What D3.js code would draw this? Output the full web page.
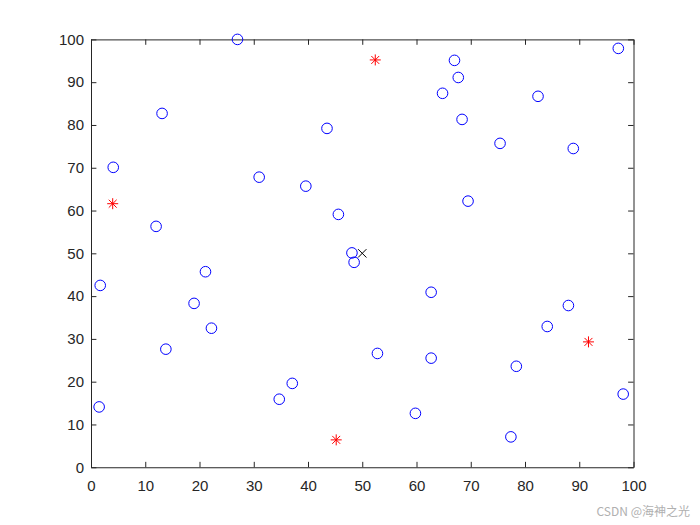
<!DOCTYPE html>
<html><head><meta charset="utf-8">
<script src="https://cdn.jsdelivr.net/npm/d3@7"></script>
<style>body{margin:0;background:#fff;} svg{display:block;}</style>
</head><body>
<script>
const circleX = [27.0,13.1,4.1,12.0,31.0,39.6,43.5,45.6,67.0,67.7,64.8,82.4,97.2,68.4,75.4,88.9,69.5,48.1,48.5,1.7,21.1,19.0,22.2,13.8,1.5,37.1,34.7,62.7,52.8,62.7,59.8,77.4,78.4,84.1,88.0,98.1];
const circleY = [100,82.7,70.1,56.3,67.8,65.7,79.2,59.1,95.1,91.1,87.4,86.7,97.9,81.3,75.7,74.5,62.2,50.1,47.9,42.5,45.7,38.3,32.5,27.6,14.1,19.6,15.9,40.9,26.6,25.5,12.6,7.1,23.6,32.9,37.8,17.1];
const starX = [4.0,52.4,45.2,91.7];
const starY = [61.6,95.2,6.4,29.3];
const centerX = [50];
const centerY = [50];
const xTicks = [0,10,20,30,40,50,60,70,80,90,100];
const yTicks = [0,10,20,30,40,50,60,70,80,90,100];

const W=700,H=525;
const L=91,R=633.5,T=39.4,B=467.25;
const svg=d3.select("body").append("svg").attr("width",W).attr("height",H);
const x=d3.scaleLinear().domain([0,100]).range([L,R]);
const y=d3.scaleLinear().domain([0,100]).range([B,T]);
const ax="#262626";
const font="'Liberation Sans', Arial, Helvetica, sans-serif";

// axes
const gx=svg.append("g").attr("transform",`translate(0,${B})`)
  .call(d3.axisBottom(x).tickValues(xTicks).tickSizeInner(-5.4).tickSizeOuter(0).tickPadding(13));
const gy=svg.append("g").attr("transform",`translate(${L},0)`)
  .call(d3.axisLeft(y).tickValues(yTicks).tickSizeInner(-5.4).tickSizeOuter(0).tickPadding(7));
const gxt=svg.append("g").attr("transform",`translate(0,${T})`)
  .call(d3.axisTop(x).tickValues(xTicks).tickSizeInner(-5.4).tickSizeOuter(0).tickFormat(""));
const gyr=svg.append("g").attr("transform",`translate(${R},0)`)
  .call(d3.axisRight(y).tickValues(yTicks).tickSizeInner(-5.4).tickSizeOuter(0).tickFormat(""));
[gx,gy,gxt,gyr].forEach(g=>{
  g.selectAll("path").attr("stroke",ax).attr("stroke-width",1);
  g.selectAll("line").attr("stroke",ax).attr("stroke-width",1);
  g.selectAll("text").attr("fill",ax).style("font-family",font).style("font-size","15px");
});

// circles
svg.append("g").selectAll("circle").data(circleX.map((v,i)=>[v,circleY[i]])).join("circle")
  .attr("cx",d=>x(d[0])).attr("cy",d=>y(d[1])).attr("r",5.3)
  .attr("fill","none").attr("stroke","#0000ff").attr("stroke-width",1);

// stars
const sr=5.5;
svg.append("g").selectAll("path").data(starX.map((v,i)=>[v,starY[i]])).join("path")
  .attr("d",d=>{const cx=x(d[0]),cy=y(d[1]);const a=sr*0.72;
    return `M${cx-sr},${cy}L${cx+sr},${cy}M${cx},${cy-sr}L${cx},${cy+sr}M${cx-a},${cy-a}L${cx+a},${cy+a}M${cx-a},${cy+a}L${cx+a},${cy-a}`;})
  .attr("stroke","#ff0000").attr("stroke-width",1).attr("fill","none");

// center x
svg.append("g").selectAll("path").data(centerX.map((v,i)=>[v,centerY[i]])).join("path")
  .attr("d",d=>{const cx=x(d[0]),cy=y(d[1]);const a=4.2;
    return `M${cx-a},${cy-a}L${cx+a},${cy+a}M${cx-a},${cy+a}L${cx+a},${cy-a}`;})
  .attr("stroke","#000").attr("stroke-width",1).attr("fill","none");

// watermark
svg.append("text").attr("x",690).attr("y",516).attr("text-anchor","end")
  .attr("fill","#b0b0b0").style("font-family","'Noto Sans CJK SC', sans-serif").style("font-size","12px")
  .text("CSDN @海神之光");
</script>
</body></html>
